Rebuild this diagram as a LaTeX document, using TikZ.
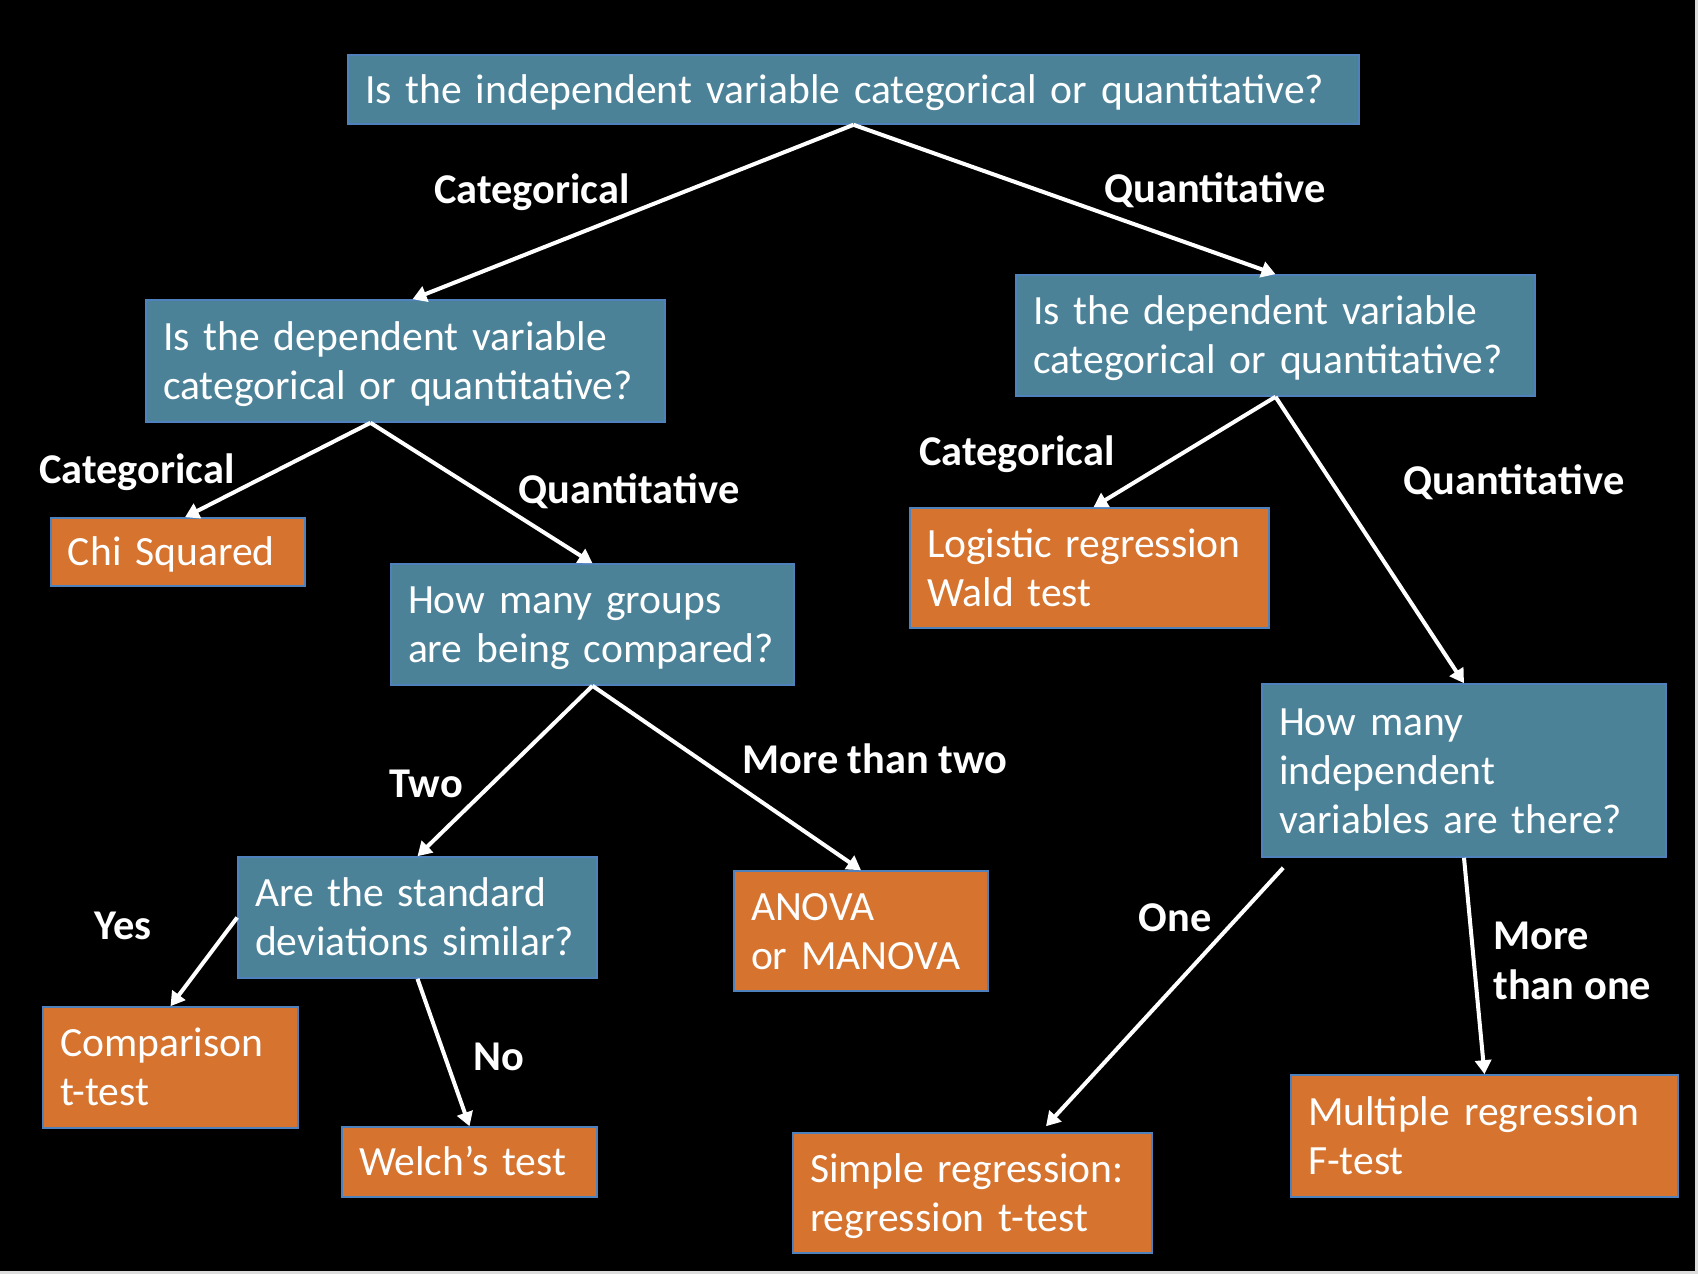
\documentclass[tikz,border=0pt]{standalone}
\usepackage{fontspec}
\setmainfont{Carlito}
\usetikzlibrary{arrows.meta,positioning}
\definecolor{qblue}{HTML}{4B8298}
\definecolor{aorange}{HTML}{D5732F}
\definecolor{edgeblue}{HTML}{4F81BD}
\definecolor{rimgray}{HTML}{DCDCDC}
\begin{document}
\begin{tikzpicture}[x=0.5pt, y=-0.5pt,
        >={Triangle[length=7pt,width=8pt]},
        box/.style={draw=edgeblue, line width=0.8pt, rectangle, text=white, align=left,
            inner xsep=8.5pt, inner ysep=0pt, font=\fontsize{20.8}{24.5}\selectfont,
            execute at begin node={\rule{0pt}{19pt}},
            execute at end node={\rule[-5.5pt]{0pt}{0pt}}},
        question/.style={box, fill=qblue},
        answer/.style={box, fill=aorange},
        choice/.style={text=white, inner sep=0pt, font=\fontsize{21.2}{25}\selectfont\bfseries},
        link/.style={->, draw=white, line width=2pt}]
        \fill[rimgray] (0,0) rectangle (1698,1274);
        \fill[black] (0,0) rectangle (1695,1271);

        % questions
        \node[question, minimum width=505.5pt, minimum height=34.5pt, text width=488.5pt] (ivtype) at (853.5,89.5) {Is the independent variable categorical or quantitative?};
        \node[question, minimum width=259.5pt, minimum height=61pt, text width=242.5pt] (dvcat) at (405.5,361) {Is the dependent variable\\categorical or quantitative?};
        \node[question, minimum width=259.5pt, minimum height=60.5pt, text width=242.5pt] (dvquant) at (1275.5,335.5) {Is the dependent variable\\categorical or quantitative?};
        \node[question, minimum width=201.5pt, minimum height=60.5pt, text width=184.5pt] (groups) at (592.5,624.5) {How many groups\\are being compared?};
        \node[question, minimum width=202pt, minimum height=86.5pt, text width=185pt] (numiv) at (1464,770.5) {How many\\independent\\variables are there?};
        \node[question, minimum width=179.5pt, minimum height=60.5pt, text width=162.5pt] (sdsim) at (417.5,917.5) {Are the standard\\deviations similar?};

        % tests
        \node[answer, minimum width=127pt, minimum height=34pt, text width=110pt] (chisq) at (178,552) {Chi Squared};
        \node[answer, minimum width=179.5pt, minimum height=60pt, text width=162.5pt] (logit) at (1089.5,568) {Logistic regression\\Wald test};
        \node[answer, minimum width=127pt, minimum height=60pt, text width=110pt] (anova) at (861,931) {ANOVA\\or MANOVA};
        \node[answer, minimum width=127.5pt, minimum height=60.5pt, text width=110.5pt] (comptt) at (170.5,1067.5) {Comparison\\t-test};
        \node[answer, minimum width=127.5pt, minimum height=35pt, text width=110.5pt] (welch) at (469.5,1162) {Welch’s test};
        \node[answer, minimum width=179.5pt, minimum height=60pt, text width=162.5pt] (simreg) at (972.5,1193) {Simple regression:\\regression t-test};
        \node[answer, minimum width=193.5pt, minimum height=61pt, text width=176.5pt] (multreg) at (1484.5,1136) {Multiple regression\\F-test};

        % branch labels
        \node[choice, anchor=base] (cat1) at (532,203) {Categorical};
        \node[choice, anchor=base] (quant1) at (1215,202) {Quantitative};
        \node[choice, anchor=base] (cat2) at (137,483) {Categorical};
        \node[choice, anchor=base] (quant2) at (629,503) {Quantitative};
        \node[choice, anchor=base] (cat3) at (1017,465) {Categorical};
        \node[choice, anchor=base] (quant3) at (1514,494) {Quantitative};
        \node[choice, anchor=base] (two) at (426,797) {Two};
        \node[choice, anchor=base] (morethantwo) at (875,773) {More than two};
        \node[choice, anchor=base] (yes) at (123,939) {Yes};
        \node[choice, anchor=base] (no) at (499,1070) {No};
        \node[choice, anchor=base] (one) at (1175,931) {One};
        \node[choice, align=left, anchor=west] (morethanone) at (1493,961) {More\\than one};

        \draw[link] (ivtype.south) -- ([xshift=3.5pt]dvcat.north);
        \draw[link] (ivtype.south) -- (dvquant.north);
        \draw[link] ([xshift=-17.5pt]dvcat.south) -- ([xshift=3.5pt]chisq.north);
        \draw[link] ([xshift=-17.5pt]dvcat.south) -- (groups.north);
        \draw[link] (dvquant.south) -- ([xshift=2pt]logit.north);
        \draw[link] (dvquant.south) -- (numiv.north);
        \draw[link] (groups.south) -- (sdsim.north);
        \draw[link] (groups.south) -- (anova.north);
        \draw[link] (sdsim.west) -- (comptt.north);
        \draw[link] (sdsim.south) -- (welch.north);
        \draw[link] ([xshift=11pt,yshift=-5pt]numiv.south west) -- ([xshift=36.75pt,yshift=3pt]simreg.north);
        \draw[link] (numiv.south) -- (multreg.north);
    \end{tikzpicture}
\end{document}
